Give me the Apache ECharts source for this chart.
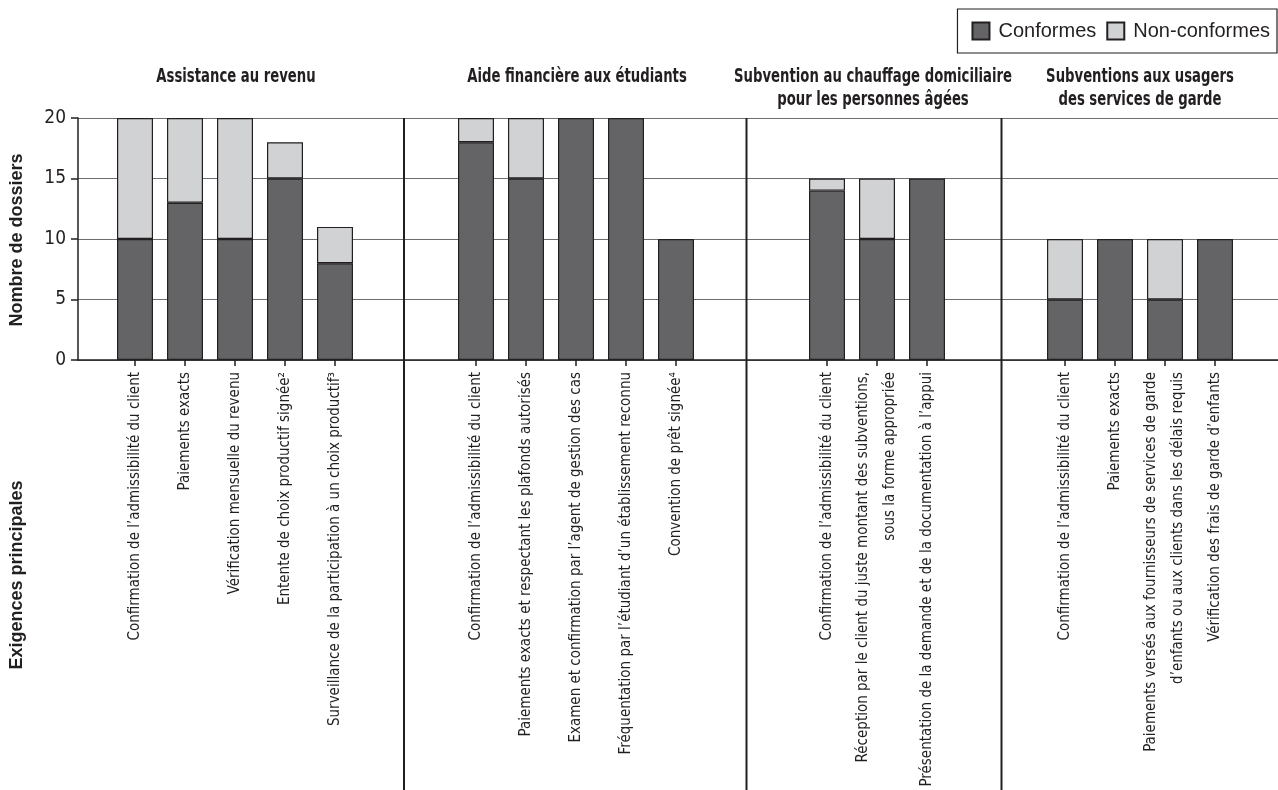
<!DOCTYPE html>
<html>
<head>
<meta charset="utf-8">
<script src="https://cdn.jsdelivr.net/npm/echarts@6/dist/echarts.min.js"></script>
<style>
html,body{margin:0;padding:0;background:#fff;}
#chart{width:1278px;height:790px;}
</style>
</head>
<body>
<div id="chart"></div>
<script>
// ---- Data ----
const groupTitles = [
  'Assistance au revenu',
  'Aide financière aux étudiants',
  'Subvention au chauffage domiciliaire\npour les personnes âgées',
  'Subventions aux usagers\ndes services de garde'
];
const cats1 = ['Confirmation de l’admissibilité du client', 'Paiements exacts', 'Vérification mensuelle du revenu', 'Entente de choix productif signée²', 'Surveillance de la participation à un choix productif³'];
const cats2 = ['Confirmation de l’admissibilité du client', 'Paiements exacts et respectant les plafonds autorisés', 'Examen et confirmation par l’agent de gestion des cas', 'Fréquentation par l’étudiant d’un établissement reconnu', 'Convention de prêt signée⁴'];
const cats3 = ['Confirmation de l’admissibilité du client', 'Réception par le client du juste montant des subventions,\nsous la forme appropriée', 'Présentation de la demande et de la documentation à l’appui'];
const cats4 = ['Confirmation de l’admissibilité du client', 'Paiements exacts', 'Paiements versés aux fournisseurs de services de garde\nd’enfants ou aux clients dans les délais requis', 'Vérification des frais de garde d’enfants'];

const conf1 = [10, 13, 10, 15, 8];
const non1  = [10, 7, 10, 3, 3];
const conf2 = [18, 15, 20, 20, 10];
const non2  = [2, 5, 0, 0, 0];
const conf3 = [14, 10, 15];
const non3  = [1, 5, 0];
const conf4 = [5, 10, 5, 10];
const non4  = [5, 0, 5, 0];

const yTicks = [0, 5, 10, 15, 20];
const seriesNames = ['Conformes', 'Non-conformes'];

// ---- Layout / style ----
const NARROW = "'Liberation Sans Narrow','Arial Narrow','DejaVu Sans Condensed',sans-serif";
const REG = "'Liberation Sans',Arial,sans-serif";
const INK = '#231f20';
const DARK = '#646466';
const LIGHT = '#d1d2d4';
const TOP = 118, H = 242;
const groups = [
  {cats: cats1, conf: conf1, non: non1, left: 110, width: 250, tx: 236},
  {cats: cats2, conf: conf2, non: non2, left: 451, width: 250, tx: 577},
  {cats: cats3, conf: conf3, non: non3, left: 802, width: 150, tx: 873},
  {cats: cats4, conf: conf4, non: non4, left: 1040, width: 200, tx: 1140}
];

const gridBase = {top: TOP, height: H, containLabel: false, outerBoundsMode: 'none'};
const grid = [Object.assign({left: 78, right: 0}, gridBase)];
const xAxis = [{gridIndex: 0, type: 'value', min: 0, max: 1, axisLine: {show: true, onZero: false, lineStyle: {color: INK, width: 1.5}}, axisTick: {show: false}, axisLabel: {show: false}, splitLine: {show: false}}];
const yAxis = [{gridIndex: 0, type: 'value', min: yTicks[0], max: yTicks[yTicks.length - 1], interval: 5,
  axisLine: {show: true, lineStyle: {color: INK, width: 1.5}},
  axisTick: {show: true, length: 7, lineStyle: {color: INK, width: 1.5}},
  axisLabel: {margin: 12, fontFamily: NARROW, fontSize: 19, color: INK},
  splitLine: {show: true, lineStyle: {color: '#6d6e71', width: 1.2}}}];
const series = [];
const graphic = [];

groups.forEach((g, i) => {
  const gi = i + 1;
  grid.push(Object.assign({left: g.left, width: g.width}, gridBase));
  xAxis.push({gridIndex: gi, type: 'category', data: g.cats, boundaryGap: true,
    axisLine: {show: false},
    axisTick: {show: true, alignWithLabel: true, length: 6, lineStyle: {color: INK, width: 1.5}},
    axisLabel: {interval: 0, rotate: 90, margin: 12, fontFamily: NARROW, fontSize: 15, color: INK, lineHeight: 27}});
  yAxis.push({gridIndex: gi, type: 'value', min: 0, max: 20, show: false, splitLine: {show: false}});
  series.push({name: seriesNames[0], type: 'bar', xAxisIndex: gi, yAxisIndex: gi, stack: 's' + gi, barWidth: 36,
    data: g.conf, itemStyle: {color: DARK, borderColor: INK, borderWidth: 1.2}});
  series.push({name: seriesNames[1], type: 'bar', xAxisIndex: gi, yAxisIndex: gi, stack: 's' + gi, barWidth: 36,
    data: g.non.map(v => v === 0 ? '-' : v), itemStyle: {color: LIGHT, borderColor: INK, borderWidth: 1.2}});
  graphic.push({type: 'text', x: g.tx, y: 65, scaleX: 0.735,
    style: {text: groupTitles[i], font: 'bold 20px ' + NARROW, lineHeight: 23, fill: INK, align: 'center', verticalAlign: 'top'}});
});

const sepX = [404, 746.5, 1001.5];
sepX.forEach(x => graphic.push({type: 'line', shape: {x1: x, y1: TOP, x2: x, y2: 790}, style: {stroke: INK, lineWidth: 2}, z: 10}));
graphic.push({type: 'text', x: 17, y: 240, rotation: Math.PI / 2,
  style: {text: 'Nombre de dossiers', font: 'bold 18px ' + REG, fill: INK, align: 'center', verticalAlign: 'middle'}});
graphic.push({type: 'text', x: 17, y: 575, rotation: Math.PI / 2,
  style: {text: 'Exigences principales', font: 'bold 18px ' + REG, fill: INK, align: 'center', verticalAlign: 'middle'}});

const chart = echarts.init(document.getElementById('chart'));
chart.setOption({
  animation: false,
  legend: {data: seriesNames, orient: 'horizontal', right: 1, top: 9, itemWidth: 17, itemHeight: 17, itemGap: 10, icon: 'rect',
    padding: [12, 7, 12, 14], borderColor: INK, borderWidth: 1.2,
    textStyle: {fontFamily: REG, fontSize: 20, color: INK, padding: [0, 0, 0, 4]}},
  grid, xAxis, yAxis, series, graphic
});
</script>
</body>
</html>
